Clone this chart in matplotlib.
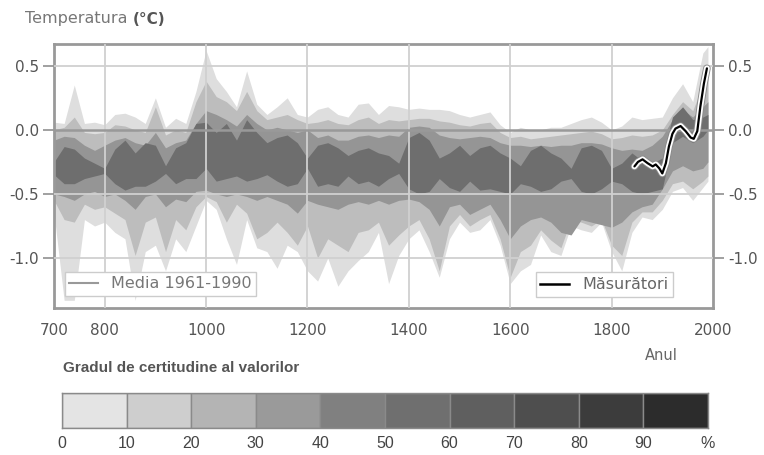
import matplotlib
matplotlib.use("Agg")
import matplotlib.pyplot as plt
import matplotlib.patheffects as pe
from matplotlib.lines import Line2D

# years sampled every 20 years (plus 1990)
years = list(range(700, 2000, 20)) + [1990]

# envelopes (deg C), outer -> inner
outer_top = [0.06, 0.05, 0.35, 0.05, 0.06, 0.04, 0.12, 0.13, 0.10, 0.05, 0.25, 0.02, 0.09, 0.05, 0.30, 0.62,
             0.40, 0.30, 0.18, 0.46, 0.20, 0.12, 0.18, 0.25, 0.12, 0.10, 0.16, 0.18, 0.12, 0.10, 0.20, 0.21,
             0.12, 0.19, 0.18, 0.16, 0.17, 0.16, 0.16, 0.15, 0.12, 0.10, 0.12, 0.14, 0.04, -0.02, 0.02, 0.00,
             0.00, 0.02, 0.02, 0.05, 0.08, 0.10, 0.06, 0.00, 0.03, 0.10, 0.08, 0.09, 0.10, 0.25, 0.36, 0.22,
             0.60, 0.65]
outer_bot = [-0.65, -1.33, -1.33, -0.70, -0.75, -0.72, -0.80, -0.85, -1.33, -0.95, -0.90, -1.10, -0.85, -0.95, -0.75, -0.55,
             -0.62, -0.85, -1.05, -0.70, -0.92, -0.95, -1.08, -0.90, -0.95, -1.10, -1.18, -1.00, -1.22, -1.10, -1.02, -0.95,
             -0.80, -1.20, -0.98, -0.85, -0.78, -0.95, -1.15, -0.85, -0.72, -0.80, -0.78, -0.70, -0.90, -1.20, -1.10, -1.05,
             -0.82, -0.95, -0.98, -0.75, -0.78, -0.80, -0.72, -0.95, -1.10, -0.80, -0.68, -0.70, -0.62, -0.48, -0.45, -0.55,
             -0.45, -0.40]
mid_top = [0.00, 0.02, 0.10, -0.02, -0.03, -0.02, 0.04, 0.03, 0.00, -0.02, 0.18, -0.04, 0.00, -0.02, 0.22, 0.38,
           0.26, 0.22, 0.15, 0.30, 0.15, 0.08, 0.10, 0.12, 0.08, 0.05, 0.06, 0.08, 0.05, 0.04, 0.08, 0.10,
           0.05, 0.08, 0.07, 0.08, 0.09, 0.09, 0.07, 0.06, 0.04, 0.03, 0.05, 0.06, -0.02, -0.06, -0.05, -0.07,
           -0.06, -0.05, -0.04, -0.03, -0.02, -0.01, -0.03, -0.07, -0.06, -0.04, -0.05, -0.04, 0.00, 0.12, 0.22, 0.15,
           0.35, 0.40]
mid_bot = [-0.55, -0.70, -0.72, -0.58, -0.62, -0.60, -0.65, -0.70, -0.98, -0.72, -0.68, -0.95, -0.70, -0.78, -0.60, -0.52,
           -0.56, -0.72, -0.58, -0.65, -0.85, -0.80, -0.72, -0.80, -0.90, -0.75, -1.00, -0.85, -0.90, -0.95, -0.80, -0.78,
           -0.72, -0.90, -0.82, -0.75, -0.70, -0.85, -1.10, -0.75, -0.66, -0.75, -0.70, -0.66, -0.85, -1.15, -0.95, -0.90,
           -0.78, -0.86, -0.92, -0.70, -0.72, -0.75, -0.70, -0.90, -0.98, -0.72, -0.64, -0.64, -0.55, -0.42, -0.40, -0.46,
           -0.40, -0.36]
core_top = [-0.08, -0.05, -0.06, -0.12, -0.16, -0.12, -0.08, -0.06, -0.10, -0.12, -0.02, -0.14, -0.10, -0.08, 0.05, 0.15,
            0.12, 0.08, 0.03, 0.12, 0.05, 0.00, 0.02, 0.00, -0.02, 0.00, -0.06, -0.04, -0.08, -0.08, -0.05, -0.04,
            -0.06, -0.04, -0.05, 0.02, 0.03, 0.02, -0.04, -0.06, -0.07, -0.06, -0.05, -0.06, -0.10, -0.12, -0.12, -0.13,
            -0.12, -0.13, -0.12, -0.12, -0.10, -0.10, -0.11, -0.14, -0.16, -0.15, -0.16, -0.12, -0.05, 0.08, 0.16, 0.10,
            0.18, 0.22]
core_bot = [-0.50, -0.52, -0.55, -0.50, -0.48, -0.52, -0.50, -0.55, -0.62, -0.52, -0.50, -0.60, -0.54, -0.56, -0.48, -0.47,
            -0.50, -0.52, -0.50, -0.52, -0.55, -0.52, -0.55, -0.58, -0.65, -0.55, -0.58, -0.60, -0.62, -0.58, -0.56, -0.58,
            -0.55, -0.58, -0.55, -0.54, -0.56, -0.62, -0.75, -0.60, -0.58, -0.66, -0.62, -0.58, -0.70, -0.85, -0.75, -0.70,
            -0.68, -0.72, -0.80, -0.82, -0.70, -0.72, -0.74, -0.76, -0.72, -0.64, -0.60, -0.58, -0.46, -0.32, -0.28, -0.32,
            -0.30, -0.25]
# darkest patches
dark_top = [-0.25, -0.13, -0.15, -0.22, -0.26, -0.30, -0.15, -0.08, -0.18, -0.10, -0.12, -0.28, -0.14, -0.10, 0.05, 0.06,
            -0.02, 0.05, -0.08, 0.08, -0.02, -0.10, -0.06, -0.04, -0.10, -0.22, -0.12, -0.10, -0.14, -0.20, -0.16, -0.14,
            -0.18, -0.20, -0.26, -0.06, -0.02, -0.08, -0.22, -0.18, -0.12, -0.20, -0.14, -0.12, -0.18, -0.22, -0.28, -0.16,
            -0.12, -0.18, -0.22, -0.30, -0.14, -0.12, -0.16, -0.30, -0.26, -0.18, -0.24, -0.26, -0.22, 0.10, 0.18, 0.08,
            0.10, 0.12]
dark_bot = [-0.35, -0.42, -0.42, -0.38, -0.36, -0.34, -0.42, -0.47, -0.44, -0.44, -0.40, -0.34, -0.42, -0.38, -0.38, -0.30,
            -0.40, -0.38, -0.36, -0.40, -0.38, -0.35, -0.40, -0.44, -0.42, -0.30, -0.44, -0.42, -0.44, -0.36, -0.42, -0.40,
            -0.44, -0.38, -0.34, -0.46, -0.50, -0.48, -0.38, -0.45, -0.48, -0.40, -0.47, -0.46, -0.48, -0.50, -0.42, -0.44,
            -0.48, -0.46, -0.40, -0.38, -0.48, -0.50, -0.46, -0.40, -0.42, -0.48, -0.50, -0.48, -0.46, -0.10, -0.05, -0.10,
            -0.05, 0.00]

# instrumental measurements
meas_years = [1845, 1852, 1861, 1871, 1881, 1887, 1894, 1900, 1907, 1913, 1920, 1926, 1936, 1946, 1956, 1962,
              1969, 1975, 1982, 1988]
meas_vals = [-0.285, -0.25, -0.23, -0.26, -0.285, -0.27, -0.30, -0.34, -0.26, -0.13, -0.03, 0.01, 0.03, -0.01,
             -0.06, -0.07, -0.01, 0.18, 0.36, 0.48]

xticks = [700, 800, 1000, 1200, 1400, 1600, 1800, 2000]
yticks = [0.5, 0.0, -0.5, -1.0]
ytick_labels = ["0.5", "0.0", "-0.5", "-1.0"]

cert_edges = [0, 10, 20, 30, 40, 50, 60, 70, 80, 90]
cert_labels = ["0", "10", "20", "30", "40", "50", "60", "70", "80", "90", "%"]
cert_colors = ["#e4e4e4", "#cecece", "#b4b4b4", "#9a9a9a", "#808080",
               "#6f6f6f", "#5f5f5f", "#4e4e4e", "#3c3c3c", "#2c2c2c"]

W, H = 764, 455
fig = plt.figure(figsize=(W / 100, H / 100), dpi=100)
fig.patch.set_facecolor("white")

ax = fig.add_axes([54 / W, 1 - 308 / H, (713 - 54) / W, (308 - 44) / H])

ax.fill_between(years, outer_bot, outer_top, color="#dedede", lw=0, zorder=1)
ax.fill_between(years, mid_bot, mid_top, color="#bdbdbd", lw=0, zorder=1.1)
ax.fill_between(years, core_bot, core_top, color="#959595", lw=0, zorder=1.2)
ax.fill_between(years, dark_bot, dark_top, color="#6e6e6e", lw=0, zorder=1.3)

for x in xticks[1:-1]:
    ax.axvline(x, color="#d0d0d0", lw=1.3, zorder=3)
for y in [0.5, -0.5, -1.0]:
    ax.axhline(y, color="#d0d0d0", lw=1.3, zorder=3)
zero = ax.axhline(0.0, color="#999999", lw=1.8, zorder=4)

meas, = ax.plot(meas_years, meas_vals, color="black", lw=1.6, zorder=5,
                solid_capstyle="round",
                path_effects=[pe.Stroke(linewidth=5.5, foreground="#8a8a8a"),
                              pe.Stroke(linewidth=4.2, foreground="white"), pe.Normal()])

ax.set_xlim(700, 2000)
ax.set_ylim(-1.39, 0.67)
ax.set_xticks(xticks)
ax.set_xticklabels([str(t) for t in xticks])
ax.set_xticks([700, 2000], minor=True)
ax.set_yticks(yticks)
ax.set_yticklabels(ytick_labels)
ax.tick_params(axis="x", which="major", length=0, pad=11, labelsize=11, labelcolor="#555555")
ax.tick_params(axis="x", which="minor", length=7, width=1.5, color="#999999")
ax.tick_params(axis="y", left=True, right=True, labelleft=True, labelright=True,
               length=8, width=1.3, color="#999999", labelsize=11, labelcolor="#555555", pad=3)
for s in ax.spines.values():
    s.set_color("#999999")
    s.set_linewidth(2)

leg1 = ax.legend(handles=[Line2D([], [], color="#999999", lw=1.5)], labels=["Media 1961-1990"],
                 loc="lower left", bbox_to_anchor=(0.016, 0.045), borderaxespad=0,
                 fancybox=False, framealpha=1, edgecolor="#cccccc", fontsize=11.5,
                 handlelength=1.8, labelcolor="#777777", borderpad=0.3)
ax.add_artist(leg1)
ax.legend(handles=[Line2D([], [], color="black", lw=1.8)], labels=["Măsurători"],
          loc="lower right", bbox_to_anchor=(0.939, 0.042), borderaxespad=0,
          fancybox=False, framealpha=1, edgecolor="#cccccc", fontsize=11.5,
          handlelength=1.8, labelcolor="#666666", borderpad=0.3)

fig.text(25 / W, 1 - 18 / H, "Temperatura", fontsize=11.5, color="#777777", va="center", ha="left")
fig.text(133 / W, 1 - 19 / H, "(°C)", fontsize=11, fontweight="bold", color="#555555", va="center", ha="left")
fig.text(661 / W, 1 - 356 / H, "Anul", fontsize=10.5, color="#666666", va="center", ha="center")
fig.text(63 / W, 1 - 368 / H, "Gradul de certitudine al valorilor", fontsize=11, fontweight="bold",
         family="Liberation Sans", color="#555555", va="center", ha="left")

# certainty scale
cax = fig.add_axes([62 / W, 1 - 428 / H, (708 - 62) / W, 35 / H])
cax.bar(cert_edges, [1] * len(cert_edges), width=10, align="edge", color=cert_colors,
        edgecolor="#8a8a8a", lw=1)
cax.set_xlim(0, 100)
cax.set_ylim(0, 1)
cax.set_yticks([])
cax.set_xticks(list(range(0, 101, 10)))
cax.set_xticklabels(cert_labels, family="Liberation Sans")
cax.tick_params(axis="x", length=0, pad=6, labelsize=11.5, labelcolor="#444444")
for s in cax.spines.values():
    s.set_color("#8a8a8a")
    s.set_linewidth(1)

fig.savefig("out.png", dpi=100)
